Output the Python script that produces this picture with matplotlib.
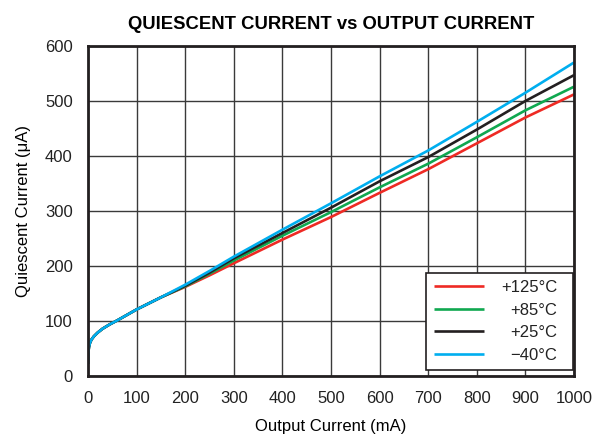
import numpy as np
import matplotlib
matplotlib.use("Agg")
import matplotlib.pyplot as plt

plt.rcParams['font.family'] = ['Liberation Sans', 'DejaVu Sans']

# shared low-current part (all temperatures overlap here)
i_low = [0, 0.5, 1, 2, 4, 7, 12, 20, 30, 45, 60, 80, 100, 150]
q_low = [22, 35, 45, 53, 60, 66, 72, 79, 86, 94, 101, 111, 121, 143]

# higher-current part, per temperature
i_high = [200, 250, 300, 400, 500, 600, 700, 800, 900, 1000]
q_125 = [162, 183, 205, 248, 289, 333, 376, 423, 470, 512]
q_85 = [163, 186, 210, 255, 298, 343, 386, 434, 483, 526]
q_25 = [164, 188, 214, 260, 306, 354, 398, 448, 500, 547]
q_m40 = [166, 191, 217, 266, 314, 363, 410, 462, 515, 570]

labels = ['+125°C', '+85°C', '+25°C', '\u221240°C']
colors = ['#ee2a24', '#10a850', '#231f20', '#00aeef']

x_ticks = list(range(0, 1001, 100))
y_ticks = list(range(0, 601, 100))

fig = plt.figure(figsize=(5.97, 4.43), dpi=100)
ax = fig.add_axes([0.1474, 0.1512, 0.8141, 0.745])

for q, lab, c in zip([q_125, q_85, q_25, q_m40], labels, colors):
    x = np.array(i_low + i_high, dtype=float)
    y = np.array(q_low + q, dtype=float)
    ax.plot(x, y, color=c, lw=1.9, label=lab, solid_capstyle='butt')

ax.set_xlim(0, 1000)
ax.set_ylim(0, 600)
ax.set_xticks(x_ticks)
ax.set_yticks(y_ticks)
ax.tick_params(length=0, labelsize=12, pad=11, colors='#222222')
ax.grid(True, color='#3a3a3a', lw=1.0)
for s in ax.spines.values():
    s.set_linewidth(2.0)
    s.set_color('#231f20')

ax.set_xlabel('Output Current (mA)', fontsize=12, labelpad=9)
ax.set_ylabel('Quiescent Current (\u03bcA)', fontsize=12, labelpad=10)
ax.set_title('QUIESCENT CURRENT vs OUTPUT CURRENT', fontsize=13.3,
             fontweight='bold', pad=12)

leg = ax.legend(loc='lower right', bbox_to_anchor=(0.997, 0.018),
                fontsize=12, frameon=True, fancybox=False,
                edgecolor='#231f20', framealpha=1, handlelength=3.0,
                borderaxespad=0, labelspacing=0.45, handletextpad=1.5,
                borderpad=0.45)
leg.get_frame().set_linewidth(1.2)

# right-align legend labels: hide legend texts and redraw them right-aligned,
# with a bit more room on the right like the original
fig.canvas.draw()
renderer = fig.canvas.get_renderer()
boxes = [t.get_window_extent(renderer) for t in leg.get_texts()]
right = max(b.x1 for b in boxes) - 8
for t, b in zip(leg.get_texts(), boxes):
    fig.text(right / fig.bbox.width, (b.y0 + b.y1) / 2 / fig.bbox.height,
             t.get_text(), ha='right', va='center', fontsize=12,
             color='#222222')
    t.set_alpha(0)

fig.savefig('out.png', dpi=100)
